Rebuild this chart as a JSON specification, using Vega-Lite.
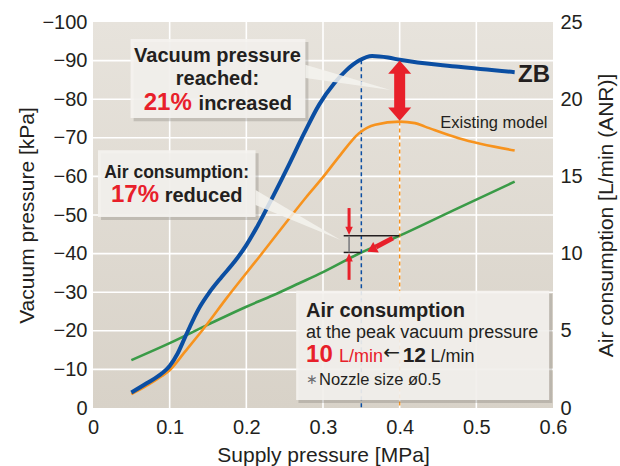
{
  "$schema": "https://vega.github.io/schema/vega-lite/v6.json",
  "width": 460,
  "height": 386,
  "autosize": {"type": "none"},
  "padding": {"left": 93, "top": 22, "right": 67, "bottom": 58},
  "background": "white",
  "config": {"view": {"stroke": null}, "font": "Liberation Sans", "axis": {"labelOverlap": false, "labelBound": false}},
  "layer": [
    {
      "layer": [
        {
          "data": {"values": [{}]},
          "mark": {"type": "rect", "color": {"gradient": "linear", "x1": 0, "y1": 0, "x2": 0, "y2": 1, "stops": [{"offset": 0, "color": "#e7e3dc"}, {"offset": 1, "color": "#d8d2c8"}]}},
          "encoding": {
            "x": {"datum": 0, "type": "quantitative", "scale": {"domain": [0, 0.6], "nice": false, "zero": false},
              "axis": {"title": "Supply pressure [MPa]", "values": [0, 0.1, 0.2, 0.3, 0.4, 0.5, 0.6], "format": "~g", "grid": false, "domain": false, "ticks": false, "labelFlush": false, "labelOverlap": false, "labelFontSize": 20, "labelColor": "#231f20", "labelPadding": 9, "titleFontSize": 21, "titleFontWeight": "normal", "titleColor": "#231f20", "titlePadding": 7}},
            "x2": {"datum": 0.6},
            "y": {"datum": 0, "type": "quantitative", "scale": {"domain": [0, 25], "nice": false, "zero": false},
              "axis": {"title": "Air consumption [L/min (ANR)]", "orient": "right", "values": [0, 5, 10, 15, 20, 25], "format": "d", "grid": false, "domain": false, "ticks": false, "labelFlush": false, "labelOverlap": false, "labelFontSize": 20, "labelColor": "#231f20", "labelPadding": 7, "titleFontSize": 21, "titleFontWeight": "normal", "titleColor": "#231f20", "titleAngle": -90, "titlePadding": 34}},
            "y2": {"datum": 25}
          }
        },
        {
          "data": {"values": [{"g": 0.1}, {"g": 0.2}, {"g": 0.3}, {"g": 0.4}, {"g": 0.5}]},
          "mark": {"type": "rule", "color": "white", "strokeWidth": 1.6},
          "encoding": {"x": {"field": "g", "type": "quantitative"}, "y": {"datum": 0, "type": "quantitative"}, "y2": {"datum": 25}}
        },
        {
          "data": {"values": [{"h": 2.5}, {"h": 5}, {"h": 7.5}, {"h": 10}, {"h": 12.5}, {"h": 15}, {"h": 17.5}, {"h": 20}, {"h": 22.5}]},
          "mark": {"type": "rule", "color": "white", "strokeWidth": 1.6},
          "encoding": {"y": {"field": "h", "type": "quantitative"}, "x": {"datum": 0, "type": "quantitative"}, "x2": {"datum": 0.6}}
        },
        {
          "data": {"values": [
            {"x": 0.05, "a": 3.1}, {"x": 0.1, "a": 4.2}, {"x": 0.15, "a": 5.4}, {"x": 0.2, "a": 6.56},
            {"x": 0.235, "a": 7.3}, {"x": 0.269, "a": 8.08}, {"x": 0.3, "a": 8.8}, {"x": 0.347, "a": 10.0},
            {"x": 0.4, "a": 11.16}, {"x": 0.47, "a": 12.8}, {"x": 0.55, "a": 14.66}
          ]},
          "mark": {"type": "line", "color": "#3a9b47", "strokeWidth": 2.6, "interpolate": "monotone"},
          "encoding": {"x": {"field": "x", "type": "quantitative"}, "y": {"field": "a", "type": "quantitative"}}
        }
      ]
    },
    {
      "layer": [
        {
          "data": {"values": [{"x": 0.35, "v": -90.1, "v2": 0}]},
          "mark": {"type": "rule", "color": "#0b4ea2", "strokeWidth": 1.5, "strokeDash": [4, 3]},
          "encoding": {
            "x": {"field": "x", "type": "quantitative"},
            "y": {"field": "v", "type": "quantitative", "scale": {"domain": [-100, 0], "reverse": true, "nice": false, "zero": false},
              "axis": {"title": "Vacuum pressure [kPa]", "orient": "left", "values": [-100, -90, -80, -70, -60, -50, -40, -30, -20, -10, 0], "tickCount": 11, "format": "d", "grid": false, "domain": false, "ticks": false, "labelOverlap": false, "labelFlush": false, "labelFontSize": 20, "labelColor": "#231f20", "labelPadding": 6, "titleFontSize": 21, "titleFontWeight": "normal", "titleColor": "#231f20", "titlePadding": 4}},
            "y2": {"field": "v2"}
          }
        },
        {
          "data": {"values": [{"x": 0.4, "v": -74.2, "v2": 0}]},
          "mark": {"type": "rule", "color": "#f7931e", "strokeWidth": 1.5, "strokeDash": [4, 3]},
          "encoding": {"x": {"field": "x", "type": "quantitative"}, "y": {"field": "v", "type": "quantitative"}, "y2": {"field": "v2"}}
        },
        {
          "data": {"values": [
            {"x": 0.05, "v": -3.6}, {"x": 0.07, "v": -5.8}, {"x": 0.09, "v": -8.3}, {"x": 0.1, "v": -9.8},
            {"x": 0.12, "v": -14.6}, {"x": 0.148, "v": -21.5}, {"x": 0.174, "v": -28.4}, {"x": 0.217, "v": -39.2},
            {"x": 0.258, "v": -49.6}, {"x": 0.278, "v": -54.6}, {"x": 0.3, "v": -59.8}, {"x": 0.322, "v": -65.4},
            {"x": 0.347, "v": -71.2}, {"x": 0.368, "v": -73.4}, {"x": 0.4, "v": -74.2}, {"x": 0.42, "v": -73.8},
            {"x": 0.433, "v": -72.9}, {"x": 0.477, "v": -69.9}, {"x": 0.55, "v": -66.7}
          ]},
          "mark": {"type": "line", "color": "#f7931e", "strokeWidth": 2.6, "interpolate": "monotone"},
          "encoding": {"x": {"field": "x", "type": "quantitative"}, "y": {"field": "v", "type": "quantitative"}}
        },
        {
          "data": {"values": [
            {"x": 0.05, "v": -4.0}, {"x": 0.07, "v": -6.4}, {"x": 0.09, "v": -9.0}, {"x": 0.1, "v": -10.9},
            {"x": 0.11, "v": -14.0}, {"x": 0.12, "v": -18.3}, {"x": 0.13, "v": -22.6}, {"x": 0.14, "v": -26.4},
            {"x": 0.152, "v": -30.0}, {"x": 0.168, "v": -34.0}, {"x": 0.185, "v": -38.0}, {"x": 0.2, "v": -42.2},
            {"x": 0.215, "v": -47.3}, {"x": 0.234, "v": -54.5}, {"x": 0.255, "v": -62.8}, {"x": 0.275, "v": -71.0},
            {"x": 0.295, "v": -78.6}, {"x": 0.315, "v": -84.2}, {"x": 0.33, "v": -87.4}, {"x": 0.347, "v": -90.0},
            {"x": 0.364, "v": -91.2}, {"x": 0.385, "v": -90.8}, {"x": 0.4, "v": -90.2}, {"x": 0.477, "v": -88.4},
            {"x": 0.55, "v": -87.0}
          ]},
          "mark": {"type": "line", "color": "#0b4ea2", "strokeWidth": 4, "interpolate": "monotone"},
          "encoding": {"x": {"field": "x", "type": "quantitative"}, "y": {"field": "v", "type": "quantitative"}}
        },
        {
          "data": {"values": [
            {"x": 0.053, "x2": 0.281, "v": -94.8, "v2": -74.3},
            {"x": 0.0105, "x2": 0.216, "v": -66.0, "v2": -48.7},
            {"x": 0.268, "x2": 0.599, "v": -29.6, "v2": -1.3}
          ]},
          "mark": {"type": "rect", "color": "#6f6a64", "opacity": 0.28},
          "encoding": {"x": {"field": "x", "type": "quantitative"}, "x2": {"field": "x2"}, "y": {"field": "v", "type": "quantitative"}, "y2": {"field": "v2"}}
        },
        {
          "data": {"values": [
            {"x": 0.049, "x2": 0.277, "v": -95.6, "v2": -75.1},
            {"x": 0.0065, "x2": 0.212, "v": -66.8, "v2": -49.5},
            {"x": 0.265, "x2": 0.595, "v": -30.4, "v2": -2.1}
          ]},
          "mark": {"type": "rect", "color": "#f5f3ef", "opacity": 0.9},
          "encoding": {"x": {"field": "x", "type": "quantitative"}, "x2": {"field": "x2"}, "y": {"field": "v", "type": "quantitative"}, "y2": {"field": "v2"}}
        },
        {
          "data": {"values": [
            {"p": "a", "x": 0.277, "v": -88.9, "v2": -85.5}, {"p": "a", "x": 0.388, "v": -82.4, "v2": -82.4},
            {"p": "b", "x": 0.212, "v": -56.5, "v2": -52.6}, {"p": "b", "x": 0.323, "v": -43.5, "v2": -43.5}
          ]},
          "mark": {"type": "area", "color": "#f5f3ef", "opacity": 0.85},
          "encoding": {"x": {"field": "x", "type": "quantitative"}, "y": {"field": "v", "type": "quantitative"}, "y2": {"field": "v2"}, "detail": {"field": "p"}}
        },
        {
          "data": {"values": [
            {"x": 0.327, "x2": 0.4, "v": -44.6, "v2": -44.6},
            {"x": 0.327, "x2": 0.349, "v": -40.3, "v2": -40.3}
          ]},
          "mark": {"type": "rule", "color": "#231f20", "strokeWidth": 1.5},
          "encoding": {"x": {"field": "x", "type": "quantitative"}, "x2": {"field": "x2"}, "y": {"field": "v", "type": "quantitative"}, "y2": {"field": "v2"}}
        },
        {
          "data": {"values": [{"x": 0.334, "v": -44.6, "v2": -40.3}]},
          "mark": {"type": "rule", "color": "#77787b", "strokeWidth": 1.5},
          "encoding": {"x": {"field": "x", "type": "quantitative"}, "y": {"field": "v", "type": "quantitative"}, "y2": {"field": "v2"}}
        },
        {
          "data": {"values": [{"x": 0.4, "v": -87.2, "v2": -77.0}]},
          "mark": {"type": "rule", "color": "#e8202a", "strokeWidth": 11},
          "encoding": {"x": {"field": "x", "type": "quantitative"}, "y": {"field": "v", "type": "quantitative"}, "y2": {"field": "v2"}}
        },
        {
          "data": {"values": [{"x": 0.334, "v": -51.8, "v2": -46.4}, {"x": 0.334, "v": -33.2, "v2": -38.4}]},
          "mark": {"type": "rule", "color": "#e8202a", "strokeWidth": 3},
          "encoding": {"x": {"field": "x", "type": "quantitative"}, "y": {"field": "v", "type": "quantitative"}, "y2": {"field": "v2"}}
        },
        {
          "data": {"values": [{"x": 0.391, "x2": 0.369, "v": -44.0, "v2": -41.7}]},
          "mark": {"type": "rule", "color": "#e8202a", "strokeWidth": 5},
          "encoding": {"x": {"field": "x", "type": "quantitative"}, "x2": {"field": "x2"}, "y": {"field": "v", "type": "quantitative"}, "y2": {"field": "v2"}}
        },
        {
          "data": {"values": [{"x": 0.4, "v": -90.0}]},
          "mark": {"type": "point", "shape": "M0,0L1,1.15L-1,1.15Z", "size": 529, "filled": true, "color": "#e8202a", "opacity": 1},
          "encoding": {"x": {"field": "x", "type": "quantitative"}, "y": {"field": "v", "type": "quantitative"}}
        },
        {
          "data": {"values": [{"x": 0.4, "v": -74.4}]},
          "mark": {"type": "point", "shape": "M0,0L1,-1.15L-1,-1.15Z", "size": 529, "filled": true, "color": "#e8202a", "opacity": 1},
          "encoding": {"x": {"field": "x", "type": "quantitative"}, "y": {"field": "v", "type": "quantitative"}}
        },
        {
          "data": {"values": [{"x": 0.334, "v": -44.8}]},
          "mark": {"type": "point", "shape": "M0,0L1,-2.2L-1,-2.2Z", "size": 56, "filled": true, "color": "#e8202a", "opacity": 1},
          "encoding": {"x": {"field": "x", "type": "quantitative"}, "y": {"field": "v", "type": "quantitative"}}
        },
        {
          "data": {"values": [{"x": 0.334, "v": -40.1}]},
          "mark": {"type": "point", "shape": "M0,0L1,2.2L-1,2.2Z", "size": 56, "filled": true, "color": "#e8202a", "opacity": 1},
          "encoding": {"x": {"field": "x", "type": "quantitative"}, "y": {"field": "v", "type": "quantitative"}}
        },
        {
          "data": {"values": [{"x": 0.358, "v": -40.5}]},
          "mark": {"type": "point", "shape": "M0,0L1,1.6L-1,1.6Z", "size": 144, "angle": 242.7, "filled": true, "color": "#e8202a", "opacity": 1},
          "encoding": {"x": {"field": "x", "type": "quantitative"}, "y": {"field": "v", "type": "quantitative"}}
        },
        {
          "data": {"values": [{"x": 0.1623, "v": -89.7, "t": "Vacuum pressure"}, {"x": 0.1623, "v": -83.7, "t": "reached:"}]},
          "mark": {"type": "text", "align": "center", "baseline": "alphabetic", "fontSize": 20, "fontWeight": "bold", "color": "#231f20"},
          "encoding": {"x": {"field": "x", "type": "quantitative"}, "y": {"field": "v", "type": "quantitative"}, "text": {"field": "t"}}
        },
        {
          "data": {"values": [{"x": 0.1091, "v": -59.5, "t": "Air consumption:"}]},
          "mark": {"type": "text", "align": "center", "baseline": "alphabetic", "fontSize": 17.5, "fontWeight": "bold", "color": "#231f20"},
          "encoding": {"x": {"field": "x", "type": "quantitative"}, "y": {"field": "v", "type": "quantitative"}, "text": {"field": "t"}}
        },
        {
          "data": {"values": [{"x": 0.1377, "v": -77.2, "t": "increased"}, {"x": 0.0935, "v": -53.4, "t": "reduced"}, {"x": 0.2779, "v": -23.5, "t": "Air consumption"}]},
          "mark": {"type": "text", "align": "left", "baseline": "alphabetic", "fontSize": 20, "fontWeight": "bold", "color": "#231f20"},
          "encoding": {"x": {"field": "x", "type": "quantitative"}, "y": {"field": "v", "type": "quantitative"}, "text": {"field": "t"}}
        },
        {
          "data": {"values": [{"x": 0.0662, "v": -77.2, "t": "21%"}, {"x": 0.0234, "v": -53.4, "t": "17%"}, {"x": 0.2779, "v": -12.0, "t": "10"}]},
          "mark": {"type": "text", "align": "left", "baseline": "alphabetic", "fontSize": 24, "fontWeight": "bold", "color": "#e8202a"},
          "encoding": {"x": {"field": "x", "type": "quantitative"}, "y": {"field": "v", "type": "quantitative"}, "text": {"field": "t"}}
        },
        {
          "data": {"values": [{"x": 0.3208, "v": -12.0, "t": "L/min"}]},
          "mark": {"type": "text", "align": "left", "baseline": "alphabetic", "fontSize": 18, "color": "#e8202a"},
          "encoding": {"x": {"field": "x", "type": "quantitative"}, "y": {"field": "v", "type": "quantitative"}, "text": {"field": "t"}}
        },
        {
          "data": {"values": [{"x": 0.2779, "v": -18.1, "t": "at the peak vacuum pressure"}, {"x": 0.4403, "v": -12.0, "t": "L/min"}]},
          "mark": {"type": "text", "align": "left", "baseline": "alphabetic", "fontSize": 18, "color": "#231f20"},
          "encoding": {"x": {"field": "x", "type": "quantitative"}, "y": {"field": "v", "type": "quantitative"}, "text": {"field": "t"}}
        },
        {
          "data": {"values": [{"x": 0.3785, "v": -12.6, "t": "←"}]},
          "mark": {"type": "text", "align": "left", "baseline": "alphabetic", "fontSize": 20, "font": "DejaVu Sans", "color": "#231f20"},
          "encoding": {"x": {"field": "x", "type": "quantitative"}, "y": {"field": "v", "type": "quantitative"}, "text": {"field": "t"}}
        },
        {
          "data": {"values": [{"x": 0.4039, "v": -12.0, "t": "12"}]},
          "mark": {"type": "text", "align": "left", "baseline": "alphabetic", "fontSize": 21, "fontWeight": "bold", "color": "#231f20"},
          "encoding": {"x": {"field": "x", "type": "quantitative"}, "y": {"field": "v", "type": "quantitative"}, "text": {"field": "t"}}
        },
        {
          "data": {"values": [{"x": 0.2948, "v": -6.0, "t": "Nozzle size ø0.5"}, {"x": 0.4529, "v": -72.5, "t": "Existing model"}]},
          "mark": {"type": "text", "align": "left", "baseline": "alphabetic", "fontSize": 16.5, "color": "#231f20"},
          "encoding": {"x": {"field": "x", "type": "quantitative"}, "y": {"field": "v", "type": "quantitative"}, "text": {"field": "t"}}
        },
        {
          "data": {"values": [{"x": 0.2779, "v": -6.3, "t": "∗"}]},
          "mark": {"type": "text", "align": "left", "baseline": "alphabetic", "fontSize": 14, "color": "#6d6e71"},
          "encoding": {"x": {"field": "x", "type": "quantitative"}, "y": {"field": "v", "type": "quantitative"}, "text": {"field": "t"}}
        },
        {
          "data": {"values": [{"x": 0.5545, "v": -84.5, "t": "ZB"}]},
          "mark": {"type": "text", "align": "left", "baseline": "alphabetic", "fontSize": 24, "fontWeight": "bold", "color": "#231f20"},
          "encoding": {"x": {"field": "x", "type": "quantitative"}, "y": {"field": "v", "type": "quantitative"}, "text": {"field": "t"}}
        }
      ]
    }
  ],
  "resolve": {"scale": {"y": "independent"}}
}
